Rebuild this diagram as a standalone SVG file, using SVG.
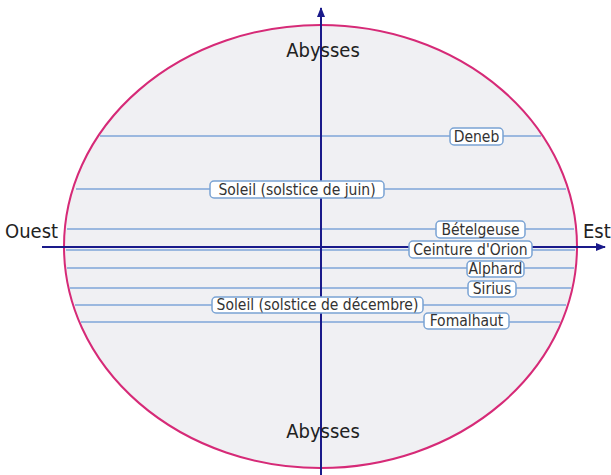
<svg xmlns="http://www.w3.org/2000/svg" width="611" height="475" viewBox="0 0 611 475">
<style>
.lbl rect{fill:#fff;stroke:#7aa3d4;stroke-width:1.5}
.lbl text{font-family:"DejaVu Sans Condensed","DejaVu Sans","Liberation Sans",sans-serif;font-stretch:condensed;font-size:15.5px;fill:#333;text-anchor:middle}
.big{font-family:"DejaVu Sans Condensed","DejaVu Sans","Liberation Sans",sans-serif;font-stretch:condensed;font-size:20px;fill:#222}
.path{stroke:#7fa6d8;stroke-width:1.5;fill:none}
.axis{stroke:#1a1a8a;stroke-width:2;fill:none}
</style>
<defs>
<marker id="arr" viewBox="0 0 10 10" refX="9" refY="5" markerWidth="10" markerHeight="10" markerUnits="userSpaceOnUse" orient="auto">
<path d="M0,1 L10,5 L0,9 z" fill="#1a1a8a"/>
</marker>
</defs>
<rect width="611" height="475" fill="#fff"/>
<g id="horizon">
<ellipse cx="320.5" cy="246.5" rx="256.5" ry="221.5" fill="#f0f0f3" stroke="#d62a77" stroke-width="2"/>
</g>
<g id="connectors">
<line class="path" x1="100" y1="136" x2="541" y2="136"/>
<line class="path" x1="76" y1="189" x2="566" y2="189"/>
<line class="path" x1="67" y1="229" x2="574" y2="229"/>
<line class="path" x1="66" y1="250" x2="575" y2="250"/>
<line class="path" x1="67" y1="268" x2="574" y2="268"/>
<line class="path" x1="70" y1="288" x2="571" y2="288"/>
<line class="path" x1="75" y1="305" x2="566" y2="305"/>
<line class="path" x1="81" y1="322" x2="560" y2="322"/>
<line class="axis" x1="42" y1="247" x2="605" y2="247" marker-end="url(#arr)"/>
<line class="axis" x1="321" y1="475" x2="321" y2="8" marker-end="url(#arr)"/>
</g>
<g id="abysses-top"><text class="big" x="323" y="57" text-anchor="middle">Abysses</text></g>
<g id="abysses-bottom"><text class="big" x="323" y="438" text-anchor="middle">Abysses</text></g>
<g id="ouest"><text class="big" x="5" y="238">Ouest</text></g>
<g id="est"><text class="big" x="583" y="238">Est</text></g>
<g id="deneb" class="lbl"><rect x="450" y="128" width="53" height="17" rx="4"/><text x="476.5" y="142">Deneb</text></g>
<g id="soleil-juin" class="lbl"><rect x="210" y="181" width="174" height="17" rx="4"/><text x="297" y="195">Soleil (solstice de juin)</text></g>
<g id="betelgeuse" class="lbl"><rect x="436" y="221" width="89" height="17" rx="4"/><text x="480.5" y="235">Bételgeuse</text></g>
<g id="ceinture" class="lbl"><rect x="409" y="241" width="123" height="17" rx="4"/><text x="470.5" y="255">Ceinture d'Orion</text></g>
<g id="alphard" class="lbl"><rect x="467" y="261" width="57" height="16" rx="4"/><text x="495.5" y="274">Alphard</text></g>
<g id="sirius" class="lbl"><rect x="468" y="281" width="48" height="16" rx="4"/><text x="492" y="294">Sirius</text></g>
<g id="soleil-decembre" class="lbl"><rect x="212" y="297" width="211" height="16" rx="4"/><text x="317.5" y="310">Soleil (solstice de décembre)</text></g>
<g id="fomalhaut" class="lbl"><rect x="424" y="313" width="85" height="16" rx="4"/><text x="466.5" y="326">Fomalhaut</text></g>
</svg>
